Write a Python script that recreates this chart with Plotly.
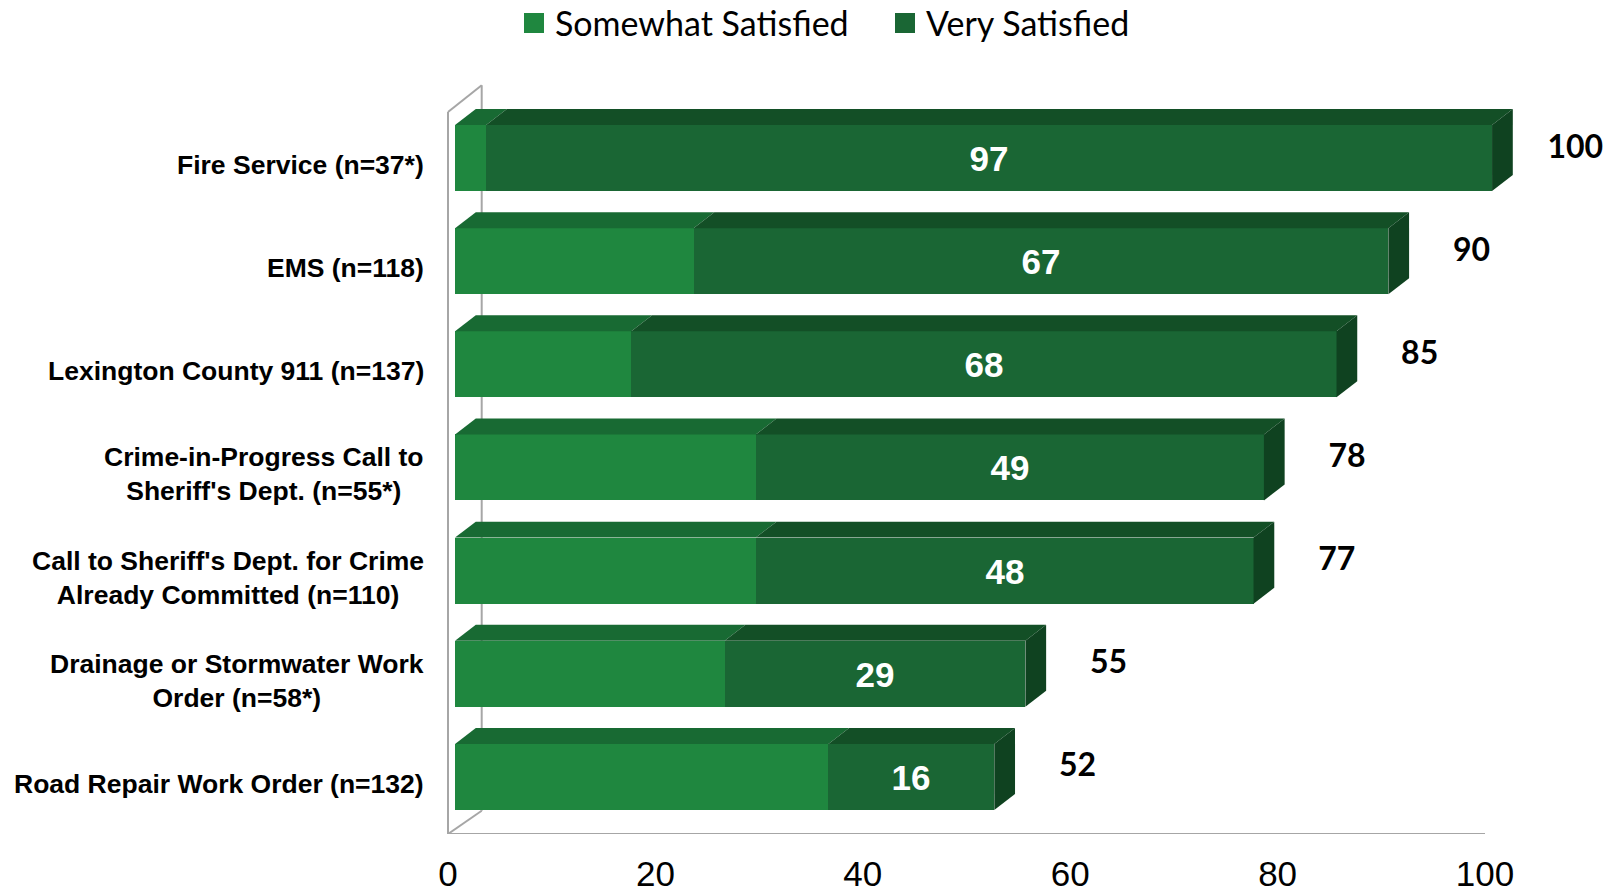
import plotly.graph_objects as go

# ---------------- data ----------------
categories = [
    "Fire Service (n=37*)",
    "EMS (n=118)",
    "Lexington County 911 (n=137)",
    "Crime-in-Progress Call to<br>Sheriff's Dept. (n=55*)",
    "Call to Sheriff's Dept. for Crime<br>Already Committed (n=110)",
    "Drainage or Stormwater Work<br>Order (n=58*)",
    "Road Repair Work Order (n=132)",
]
somewhat = [3, 23, 17, 29, 29, 26, 36]
very = [97, 67, 68, 49, 48, 29, 16]
totals = [100, 90, 85, 78, 77, 55, 52]
series_names = ["Somewhat Satisfied", "Very Satisfied"]
x_ticks = [0, 20, 40, 60, 80, 100]

# ---------------- style ----------------
C_SOME = "#1F873F"
C_VERY = "#1A6634"
C_SOME_TOP = "#186A33"
C_VERY_TOP = "#134F26"
C_SIDE = "#0F4220"
WALL = "#A6A6A6"
BAR_W = 0.64
FACE_SHIFT = 0.068   # front face sits slightly above category centre
DEPTH_X0 = 0.68      # bars sit a little behind the front plane
DX = 2.0             # 3-D depth in x units
DY = 0.155           # 3-D depth in y units
LABEL_GAP = 8.7

n = len(categories)
pos = [n - 1 - i for i in range(n)]
face_c = [p + FACE_SHIFT for p in pos]

fig = go.Figure()

# front faces (real bars)
fig.add_trace(go.Bar(
    orientation="h", x=somewhat, y=face_c, width=BAR_W, name=series_names[0],
    base=[DEPTH_X0] * n,
    marker=dict(color=C_SOME, line=dict(width=0)), showlegend=False, hoverinfo="x",
))
fig.add_trace(go.Bar(
    orientation="h", x=very, y=face_c, width=BAR_W, name=series_names[1],
    base=[DEPTH_X0 + s for s in somewhat],
    marker=dict(color=C_VERY, line=dict(width=0)), showlegend=False, hoverinfo="x",
    text=[str(v) for v in very], textposition="inside", insidetextanchor="middle",
    textangle=0, constraintext="none",
    textfont=dict(family="Liberation Sans", size=35, color="white", weight="bold"),
))

# 3-D top and side faces
for i in range(n):
    yb = face_c[i] - BAR_W / 2
    yt = face_c[i] + BAR_W / 2
    a = DEPTH_X0
    b = DEPTH_X0 + somewhat[i]
    c = DEPTH_X0 + somewhat[i] + very[i]
    for x0, x1, col in [(a, b, C_SOME_TOP), (b, c, C_VERY_TOP)]:
        fig.add_trace(go.Scatter(
            x=[x0, x0 + DX, x1 + DX, x1, x0], y=[yt, yt + DY, yt + DY, yt, yt],
            mode="lines", fill="toself", fillcolor=col, line=dict(width=0),
            showlegend=False, hoverinfo="skip",
        ))
    fig.add_trace(go.Scatter(
        x=[c, c + DX, c + DX, c, c], y=[yb, yb + DY, yt + DY, yt, yb],
        mode="lines", fill="toself", fillcolor=C_SIDE, line=dict(width=0),
        showlegend=False, hoverinfo="skip",
    ))

# totals
fig.add_trace(go.Scatter(
    x=[t + LABEL_GAP for t in totals], y=[p + 0.15 for p in pos], mode="text",
    text=[str(t) for t in totals], textposition="middle center",
    textfont=dict(family="Lato", size=32, color="black", weight="bold"),
    showlegend=False, hoverinfo="skip", cliponaxis=False,
))

# walls / floor as shapes beneath traces
Y_FLOOR = -0.485
Y_TOP_FRONT = 6.514
FRONT = 0.0
BACK = 3.25
wall_lines = [
    (FRONT, Y_FLOOR, FRONT, Y_TOP_FRONT),
    (BACK, Y_FLOOR + 0.225, BACK, Y_TOP_FRONT + 0.26),
    (FRONT, Y_TOP_FRONT, BACK, Y_TOP_FRONT + 0.26),
    (FRONT, Y_FLOOR, BACK, Y_FLOOR + 0.225),
    (FRONT, Y_FLOOR, x_ticks[-1], Y_FLOOR),
]
shapes = []
for x0, y0, x1, y1 in wall_lines:
    shapes.append(dict(type="line", xref="x", yref="y", x0=x0, y0=y0, x1=x1, y1=y1,
                       line=dict(color=WALL, width=2), layer="below"))

# manual legend squares
L, PW, T, PH = 438, 1619 - 438, 60, 834 - 60
def px_x(p):
    return (p - L) / PW
def px_y(p):
    return (T + PH - p) / PH

leg = [(524, C_SOME, series_names[0]), (895, C_VERY, series_names[1])]
annotations = []
for x, col, name in leg:
    shapes.append(dict(type="rect", xref="paper", yref="paper",
                       x0=px_x(x), x1=px_x(x + 20), y0=px_y(33), y1=px_y(13),
                       fillcolor=col, line=dict(width=0)))
    annotations.append(dict(xref="paper", yref="paper", x=px_x(x + 29), y=px_y(23),
                            text=name, showarrow=False, xanchor="left", yanchor="middle",
                            font=dict(family="Lato", size=34, color="black")))

# category labels
for p, c in zip(pos, categories):
    annotations.append(dict(xref="paper", yref="y", x=px_x(426), y=p, text=c,
                            showarrow=False, xanchor="right", yanchor="middle", align="center",
                            font=dict(family="Liberation Sans", size=26.5, color="black", weight="bold")))

PX_PER_UNIT = 10.37
x_lo = -(448 - L) / PX_PER_UNIT
x_hi = x_lo + PW / PX_PER_UNIT

fig.update_layout(
    width=1619, height=894,
    margin=dict(l=L, r=0, t=T, b=894 - T - PH, pad=0, autoexpand=False),
    paper_bgcolor="white", plot_bgcolor="white",
    barmode="overlay", bargap=0,
    shapes=shapes, annotations=annotations,
    xaxis=dict(range=[x_lo, x_hi], tickvals=x_ticks, ticktext=[str(v) for v in x_ticks],
               showgrid=False, zeroline=False, showline=False, automargin=False,
               ticks="outside", ticklen=9, tickcolor="rgba(0,0,0,0)",
               tickfont=dict(family="Liberation Sans", size=35, color="black")),
    yaxis=dict(range=[Y_FLOOR, 7.018], showgrid=False, zeroline=False, showline=False,
               showticklabels=False, ticks="", automargin=False),
    font=dict(family="Liberation Sans"),
)

fig.write_html("out.html", config={"displayModeBar": False},
               post_script="document.body.style.margin='0';document.body.style.padding='0';")
